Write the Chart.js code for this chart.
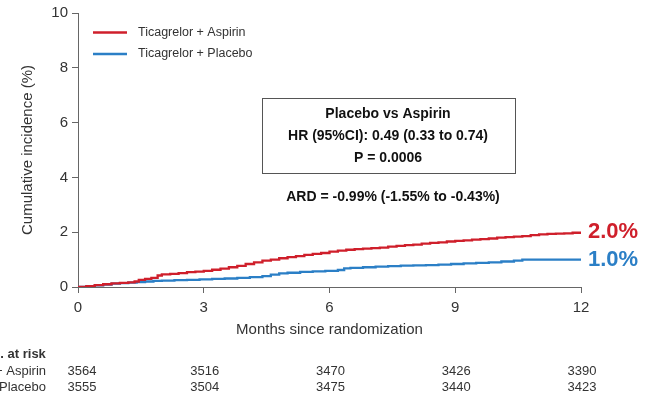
<!DOCTYPE html>
<html>
<head>
<meta charset="utf-8">
<script src="https://cdn.jsdelivr.net/npm/chart.js@4"></script>
<style>
  html, body { margin: 0; padding: 0; background: #fff; }
  #wrap { width: 650px; height: 398px; }
</style>
</head>
<body>
<div id="wrap"><canvas id="km" width="650" height="398"></canvas></div>
<script>
// KM curves (months, cumulative incidence %)
const aspirinMonths = [0, 0.2, 0.4, 0.6, 0.8, 1.0, 1.2, 1.35, 1.45, 1.6, 1.75, 1.9, 2.0, 2.2, 2.4, 2.6, 2.8, 3.0, 3.2, 3.4, 3.6, 3.8, 4.0, 4.2, 4.4, 4.6, 4.8, 5.0, 5.2, 5.4, 5.6, 5.8, 6.0, 6.2, 6.4, 6.6, 6.8, 7.0, 7.2, 7.4, 7.6, 7.8, 8.0, 8.2, 8.4, 8.6, 8.8, 9.0, 9.2, 9.4, 9.6, 9.8, 10.0, 10.2, 10.4, 10.6, 10.8, 11.0, 11.2, 11.4, 11.6, 11.8, 12];
const aspirinInc = [0, 0.03, 0.07, 0.1, 0.13, 0.15, 0.17, 0.2, 0.26, 0.3, 0.33, 0.42, 0.46, 0.48, 0.51, 0.54, 0.56, 0.59, 0.63, 0.67, 0.72, 0.77, 0.84, 0.9, 0.96, 1.0, 1.05, 1.09, 1.13, 1.17, 1.21, 1.24, 1.29, 1.33, 1.36, 1.38, 1.4, 1.42, 1.44, 1.47, 1.5, 1.53, 1.55, 1.58, 1.61, 1.63, 1.66, 1.68, 1.7, 1.73, 1.75, 1.77, 1.8, 1.82, 1.84, 1.86, 1.89, 1.92, 1.94, 1.95, 1.96, 1.98, 2.0];

const placeboMonths = [0, 0.2, 0.4, 0.6, 0.8, 1.0, 1.2, 1.4, 1.6, 1.8, 2.0, 2.3, 2.6, 2.9, 3.2, 3.5, 3.8, 4.1, 4.4, 4.6, 4.8, 5.0, 5.3, 5.6, 5.9, 6.2, 6.35, 6.5, 6.8, 7.1, 7.4, 7.7, 8.0, 8.3, 8.6, 8.9, 9.2, 9.5, 9.8, 10.1, 10.4, 10.6, 12];
const placeboInc = [0, 0.03, 0.06, 0.09, 0.12, 0.14, 0.16, 0.18, 0.2, 0.22, 0.23, 0.25, 0.26, 0.28, 0.3, 0.31, 0.33, 0.36, 0.4, 0.45, 0.5, 0.52, 0.55, 0.57, 0.59, 0.62, 0.68, 0.7, 0.72, 0.74, 0.76, 0.78, 0.79, 0.8, 0.82, 0.84, 0.86, 0.88, 0.9, 0.93, 0.96, 1.0, 1.0];

const seriesNames = ["Ticagrelor + Aspirin", "Ticagrelor + Placebo"];
const endLabels = ["2.0%", "1.0%"];

// numbers at risk
const riskMonths = [0, 3, 6, 9, 12];
const riskAspirin = [3564, 3516, 3470, 3426, 3390];
const riskPlacebo = [3555, 3504, 3475, 3440, 3423];

const boxLines = ["Placebo vs Aspirin", "HR (95%CI): 0.49 (0.33 to 0.74)", "P = 0.0006"];
const ardText = "ARD = -0.99% (-1.55% to -0.43%)";

const RED = "#cf1f2b";
const BLUE = "#2b7fc6";
const TXT = "#333";
const AXIS = "#666";
const FONT = "'Liberation Sans', Arial, sans-serif";

const toXY = (xs, ys) => xs.map((x, i) => ({ x: x, y: ys[i] }));

// legend, stats box, end labels and at-risk table
const extras = {
  id: "extras",
  afterDraw(chart) {
    const { ctx, scales: { x, y } } = chart;
    ctx.save();

    // legend
    [RED, BLUE].forEach((c, i) => {
      const ly = 32.5 + i * 21.5;
      ctx.strokeStyle = c;
      ctx.lineWidth = 2.5;
      ctx.beginPath();
      ctx.moveTo(93, ly);
      ctx.lineTo(127, ly);
      ctx.stroke();
      ctx.fillStyle = TXT;
      ctx.font = "12.5px " + FONT;
      ctx.textAlign = "left";
      ctx.textBaseline = "middle";
      ctx.fillText(seriesNames[i], 138, ly);
    });

    // stats box
    ctx.strokeStyle = "#555";
    ctx.lineWidth = 1;
    ctx.strokeRect(262.5, 98.5, 253, 75);
    ctx.fillStyle = "#111";
    ctx.font = "bold 14px " + FONT;
    ctx.textAlign = "center";
    boxLines.forEach((t, i) => ctx.fillText(t, 388, 114 + i * 22));
    ctx.fillText(ardText, 393, 197);

    // end-of-curve labels
    ctx.font = "bold 22px " + FONT;
    ctx.textAlign = "left";
    const ends = [aspirinInc[aspirinInc.length - 1], placeboInc[placeboInc.length - 1]];
    [RED, BLUE].forEach((c, i) => {
      ctx.fillStyle = c;
      ctx.fillText(endLabels[i], x.getPixelForValue(12) + 7, y.getPixelForValue(ends[i]));
    });

    // numbers at risk
    ctx.fillStyle = TXT;
    ctx.font = "bold 13px " + FONT;
    ctx.fillText("No. at risk", -17, 354);
    ctx.font = "13px " + FONT;
    ctx.textAlign = "right";
    ctx.fillText(seriesNames[0], 46, 371);
    ctx.fillText(seriesNames[1], 46, 387);
    ctx.textAlign = "center";
    riskMonths.forEach((m, i) => {
      const px = x.getPixelForValue(m) + (i === 0 ? 4 : 1);
      ctx.fillText(String(riskAspirin[i]), px, 371);
      ctx.fillText(String(riskPlacebo[i]), px, 387);
    });

    ctx.restore();
  }
};

new Chart(document.getElementById("km"), {
  type: "line",
  data: {
    datasets: [
      {
        label: seriesNames[0],
        data: toXY(aspirinMonths, aspirinInc),
        borderColor: RED,
        borderWidth: 2.3,
        pointRadius: 0,
        stepped: true,
        fill: false,
      },
      {
        label: seriesNames[1],
        data: toXY(placeboMonths, placeboInc),
        borderColor: BLUE,
        borderWidth: 2.3,
        pointRadius: 0,
        stepped: true,
        fill: false,
      },
    ],
  },
  options: {
    responsive: false,
    animation: false,
    layout: { padding: { left: 0, right: 69, top: 11, bottom: 56 } },
    plugins: {
      legend: { display: false },
      tooltip: { enabled: false },
    },
    scales: {
      x: {
        type: "linear",
        min: 0,
        max: 12,
        ticks: { stepSize: 3, color: TXT, font: { family: FONT, size: 15 }, padding: 6, maxRotation: 0 },
        grid: { drawOnChartArea: false, drawTicks: true, tickLength: 6, color: AXIS },
        border: { display: true, color: AXIS },
        title: {
          display: true,
          text: "Months since randomization",
          color: TXT,
          font: { family: FONT, size: 15 },
          padding: { top: 0, bottom: 3 },
        },
        afterFit(s) { s.height = 55; },
      },
      y: {
        min: 0,
        max: 10,
        ticks: { stepSize: 2, color: TXT, font: { family: FONT, size: 15 }, padding: 4 },
        grid: { drawOnChartArea: false, drawTicks: true, tickLength: 6, color: AXIS },
        border: { display: true, color: AXIS },
        title: {
          display: true,
          text: "Cumulative incidence (%)",
          color: TXT,
          font: { family: FONT, size: 15 },
          padding: { top: 19, bottom: 0 },
        },
        afterFit(s) { s.width = 78; },
      },
    },
  },
  plugins: [extras],
});
</script>
</body>
</html>
